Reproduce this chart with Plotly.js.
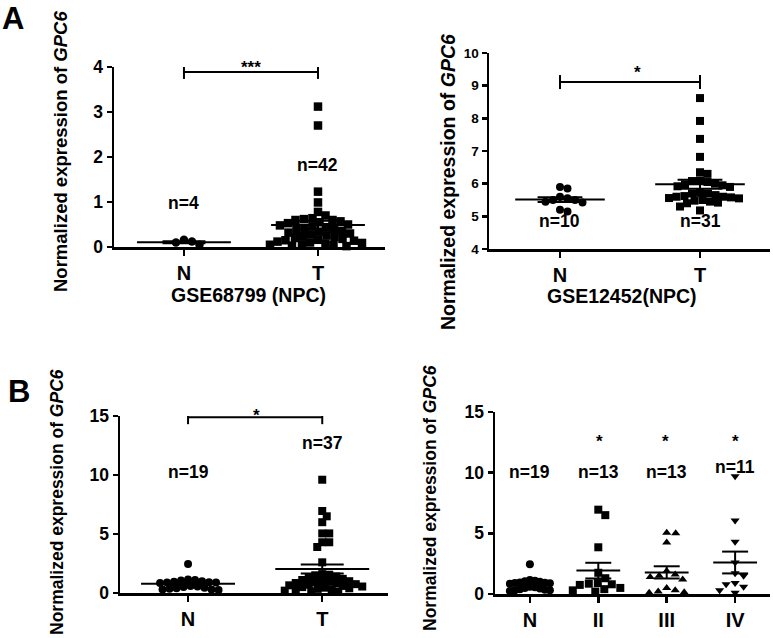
<!DOCTYPE html>
<html><head><meta charset="utf-8">
<script src="https://cdn.plot.ly/plotly-3.0.1.min.js"></script>
<style>html,body{margin:0;padding:0;background:#fff}#chart{width:773px;height:638px}</style>
</head><body><div id="chart"></div>
<script>
// ---------- data ----------
const a1Categories = ['N', 'T'];
const a1Normal = [0.12, 0.05, 0.10, 0.16];
const a1Tumor = [3.12, 2.7, 1.23, 0.99, 0.78, 0.7, 0.64, 0.6, 0.57, 0.6, 0.62,
  0.55, 0.53, 0.5, 0.48, 0.46, 0.44, 0.42, 0.4, 0.38, 0.36, 0.34, 0.32, 0.3, 0.28, 0.26,
  0.24, 0.22, 0.2, 0.18, 0.16, 0.15, 0.14, 0.12, 0.1, 0.09, 0.08, 0.06, 0.05, 0.04, 0.03, 0.02];
const a1Counts = ['n=4', 'n=42'];
const a1Title = 'GSE68799 (NPC)';

const a2Categories = ['N', 'T'];
const a2Normal = [5.9, 5.85, 5.6, 5.55, 5.5, 5.5, 5.45, 5.42, 5.2, 5.15];
const a2Tumor = [8.62, 7.92, 7.37, 6.82, 6.3, 6.35, 6.1, 6.08, 6.05, 6.0, 5.98, 5.95, 5.92, 5.9,
  5.7, 5.65, 5.62, 5.6, 5.58, 5.56, 5.72, 5.7, 5.6, 5.55, 5.5, 5.48, 5.45, 5.42, 5.4, 5.3, 5.18];
const a2Counts = ['n=10', 'n=31'];
const a2Title = 'GSE12452(NPC)';

const b1Categories = ['N', 'T'];
const bNormal = [2.45, 1.15, 1.1, 1.05, 1.0, 0.95, 0.92, 0.9, 0.88, 0.85, 0.6, 0.55, 0.5, 0.45, 0.4, 0.35, 0.3, 0.3, 0.25];
const b1Tumor = [9.6, 6.95, 6.5, 6.0, 5.05, 5.05, 4.3, 4.3, 3.9, 2.6,
  1.6, 1.55, 1.5, 1.4, 1.3, 1.2, 1.1, 1.0, 1.0, 0.95, 0.9, 0.85, 0.8, 0.75, 0.7, 0.65, 0.6,
  0.55, 0.5, 0.45, 0.4, 0.35, 0.3, 0.25, 0.2, 0.15, 0.1];
const b1Counts = ['n=19', 'n=37'];

const b2Categories = ['N', 'II', 'III', 'IV'];
const b2StageII = [6.95, 6.5, 3.85, 1.75, 1.3, 0.9, 0.85, 0.8, 0.75, 0.5, 0.4, 0.3, 0.2];
const b2StageIII = [5.05, 5.0, 4.25, 1.9, 1.6, 1.5, 1.4, 1.2, 0.5, 0.3, 0.2, 0.15, 0.1];
const b2StageIV = [9.7, 6.05, 4.3, 2.6, 1.7, 1.5, 0.9, 0.8, 0.6, 0.3, 0.1];
const b2Counts = ['n=19', 'n=13', 'n=13', 'n=11'];

const yTitle = 'Normalized expression of <i>GPC6</i>';

// ---------- layout helpers ----------
const W = 773, H = 638;
const FONT = 'Liberation Sans, Arial, Helvetica, sans-serif';

const panels = [
  {dom: [114, 385, 67, 247], xr: [-0.522, 1.5], yr: [0, 4], dtick: 1, cats: a1Categories,
   groups: [a1Normal, a1Tumor], symbols: ['circle', 'square'], size: 8.5, pack: [0.95, 0.95],
   meanHalf: 0.35, capHalf: 0.16, tickFont: 17.5, catFont: 20,
   bracket: 3.89, stars: [['***', 251, 67]], counts: a1Counts, countY: [0.98, 1.82],
   xTitle: a1Title, xTitlePos: [248, 295], yTitlePos: [60, 152], yTitleFont: 18.5},
  {dom: [489, 770, 53, 249], xr: [-0.507, 1.5], yr: [4, 10], dtick: 1, cats: a2Categories,
   groups: [a2Normal, a2Tumor], symbols: ['circle', 'square'], size: 8, pack: [0.95, 0.95],
   meanHalf: 0.32, capHalf: 0.16, tickFont: 13.5, catFont: 20,
   bracket: 9.11, stars: [['*', 637, 73]], counts: a2Counts, countY: [4.87, 4.87],
   xTitle: a2Title, xTitlePos: [622, 296], yTitlePos: [448, 182], yTitleFont: 19.5},
  {dom: [120, 388, 416, 593], xr: [-0.507, 1.49], yr: [0, 15], dtick: 5, cats: b1Categories,
   groups: [bNormal, b1Tumor], symbols: ['circle', 'square'], size: 8, pack: [0.85, 0.85],
   meanHalf: 0.35, capHalf: 0.16, tickFont: 17.5, catFont: 20,
   bracket: 14.9, stars: [['*', 256, 415]], counts: b1Counts, countY: [10.25, 12.7],
   xTitle: null, yTitlePos: [57, 502], yTitleFont: 17.5},
  {dom: [495, 770, 412, 594], xr: [-0.51, 3.51], yr: [0, 15], dtick: 5, cats: b2Categories,
   groups: [bNormal, b2StageII, b2StageIII, b2StageIV],
   symbols: ['circle', 'square', 'triangle-up', 'triangle-down'], size: 8, pack: [0.6, 1.1, 1.1, 1.1],
   meanHalf: 0.32, capHalf: 0.19, tickFont: 17.5, catFont: 20,
   bracket: null, stars: [['*', 599, 442], ['*', 665, 442], ['*', 735, 442]], counts: b2Counts,
   countY: [10.06, 10.06, 10.06, 10.47],
   xTitle: null, yTitlePos: [430, 498], yTitleFont: 17.5}
];

// deterministic beeswarm layout: horizontal offsets so markers do not overlap
function swarm(vals, d, sx, sy) {
  const idx = vals.map((v, i) => i).sort((a, b) => vals[b] - vals[a]);
  const placed = [];
  const off = new Array(vals.length).fill(0);
  for (const i of idx) {
    const py = vals[i] * sy;
    let best = 0;
    for (let k = 0; k < 800; k++) {
      const cand = (k % 2 === 1 ? 1 : -1) * Math.ceil(k / 2) * 0.5;
      let ok = true;
      for (const p of placed) {
        const dx = cand - p[0], dy = py - p[1];
        if (dx * dx + dy * dy < d * d) { ok = false; break; }
      }
      if (ok) { best = cand; break; }
    }
    placed.push([best, py]);
    off[i] = best / sx;
  }
  return off;
}

function meanSem(v) {
  const n = v.length;
  const m = v.reduce((a, b) => a + b, 0) / n;
  const sd = Math.sqrt(v.reduce((a, b) => a + (b - m) * (b - m), 0) / (n - 1));
  return [m, sd / Math.sqrt(n)];
}

const traces = [];
const layout = {
  width: W, height: H, margin: {l: 0, r: 0, t: 0, b: 0},
  paper_bgcolor: '#fff', plot_bgcolor: 'rgba(0,0,0,0)', showlegend: false,
  font: {family: FONT, color: '#000'}, annotations: []
};
const bold = (size) => ({family: FONT, size: size, weight: 700, color: '#000'});

panels.forEach((p, i) => {
  const sfx = i === 0 ? '' : String(i + 1);
  const xa = 'x' + sfx, ya = 'y' + sfx;
  const [x0, x1, y0, y1] = p.dom;
  const sx = (x1 - x0) / (p.xr[1] - p.xr[0]);
  const sy = (y1 - y0) / (p.yr[1] - p.yr[0]);
  const yt = [];
  for (let v = p.yr[0]; v <= p.yr[1] + 1e-9; v += p.dtick) yt.push(v);
  layout['xaxis' + sfx] = {
    domain: [x0 / W, x1 / W], range: p.xr, anchor: ya, showgrid: false, zeroline: false,
    showline: true, linewidth: 2.5, linecolor: '#000', ticks: 'outside', ticklen: 6,
    tickwidth: 2.5, tickcolor: '#000', tickvals: p.cats.map((c, k) => k), ticktext: p.cats,
    tickfont: bold(p.catFont), fixedrange: true
  };
  layout['yaxis' + sfx] = {
    domain: [1 - y1 / H, 1 - y0 / H], range: p.yr, anchor: xa, showgrid: false, zeroline: false,
    showline: true, linewidth: 2.5, linecolor: '#000', ticks: 'outside', ticklen: 5,
    tickwidth: 2.5, tickcolor: '#000', tickvals: yt, ticktext: yt.map(String), ticklabelstandoff: 0,
    tickfont: bold(p.tickFont), fixedrange: true
  };
  p.groups.forEach((vals, g) => {
    const off = swarm(vals, p.size * p.pack[g], sx, sy);
    traces.push({
      type: 'scatter', mode: 'markers', xaxis: xa, yaxis: ya, cliponaxis: false,
      x: vals.map((v, j) => g + off[j]), y: vals,
      marker: {symbol: p.symbols[g], size: p.size, color: '#000', line: {width: 0}}
    });
    const [m, s] = meanSem(vals);
    const mh = p.meanHalf, ch = p.capHalf;
    traces.push({
      type: 'scatter', mode: 'lines', xaxis: xa, yaxis: ya, cliponaxis: false,
      x: [g - mh, g + mh, null, g, g, null, g - ch, g + ch, null, g - ch, g + ch],
      y: [m, m, null, m - s, m + s, null, m + s, m + s, null, m - s, m - s],
      line: {color: '#000', width: 2}
    });
    layout.annotations.push({
      xref: xa, yref: ya, x: g, y: p.countY[g], text: p.counts[g], showarrow: false,
      font: bold(17.5)
    });
  });
  if (p.bracket !== null) {
    const h = 7 / sy, b = p.bracket;
    traces.push({
      type: 'scatter', mode: 'lines', xaxis: xa, yaxis: ya, cliponaxis: false,
      x: [0, 0, null, 0, 1, null, 1, 1], y: [b - h, b + h, null, b, b, null, b - h, b + h],
      line: {color: '#000', width: 2}
    });
  }
  p.stars.forEach(st => {
    layout.annotations.push({
      xref: 'paper', yref: 'paper', x: st[1] / W, y: 1 - st[2] / H, text: st[0], showarrow: false,
      xanchor: 'center', yanchor: 'middle', font: bold(17)
    });
  });
  if (p.xTitle) {
    layout.annotations.push({
      xref: 'paper', yref: 'paper', x: p.xTitlePos[0] / W, y: 1 - p.xTitlePos[1] / H,
      text: p.xTitle, showarrow: false, xanchor: 'center', yanchor: 'middle',
      font: bold(19.5)
    });
  }
  layout.annotations.push({
    xref: 'paper', yref: 'paper', x: p.yTitlePos[0] / W, y: 1 - p.yTitlePos[1] / H,
    text: yTitle, showarrow: false, textangle: -90, xanchor: 'center', yanchor: 'middle',
    font: bold(p.yTitleFont)
  });
});

layout.annotations.push({xref: 'paper', yref: 'paper', x: 13 / W, y: 1 - 19 / H, text: 'A',
  showarrow: false, xanchor: 'center', yanchor: 'middle', font: bold(31)});
layout.annotations.push({xref: 'paper', yref: 'paper', x: 19 / W, y: 1 - 391 / H, text: 'B',
  showarrow: false, xanchor: 'center', yanchor: 'middle', font: bold(31)});

Plotly.newPlot('chart', traces, layout, {staticPlot: true, displayModeBar: false});
</script>
</body></html>
